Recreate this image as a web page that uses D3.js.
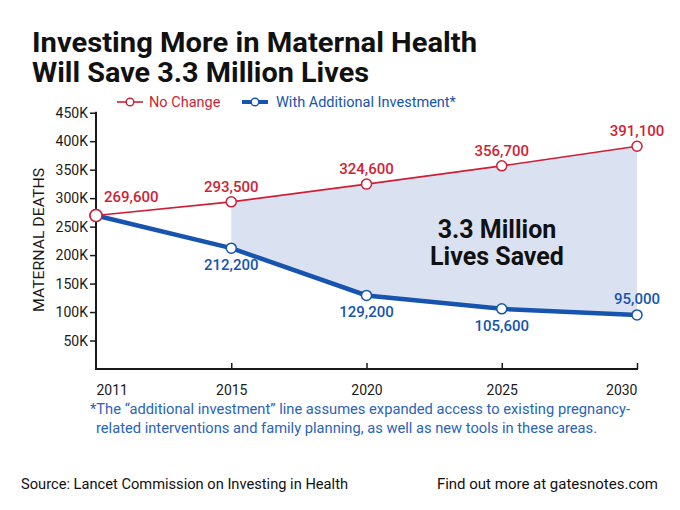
<!DOCTYPE html>
<html>
<head>
<meta charset="utf-8">
<script src="https://cdn.jsdelivr.net/npm/d3@7"></script>
<style>
  body { margin: 0; background: #fff; }
  text { font-family: Roboto, "Noto Sans", sans-serif; }
</style>
</head>
<body>
<svg id="chart" width="680" height="510"></svg>
<script>
// data
const years = ["2011", "2015", "2020", "2025", "2030"];
const noChange = [269600, 293500, 324600, 356700, 391100];
const withInvestment = [269600, 212200, 129200, 105600, 95000];
const yTicks = [50000, 100000, 150000, 200000, 250000, 300000, 350000, 400000, 450000];

const red = "#cf1f36";
const blue = "#1654b0";
const ink = "#1a1a1a";

const svg = d3.select("#chart");

// scales
const x = d3.scalePoint().domain(years).range([96, 637]);
const y = d3.scaleLinear().domain([0, 450000]).range([369, 112.7]);

// title
svg.append("text")
  .attr("x", 32).attr("y", 52)
  .attr("font-size", 27).attr("font-weight", 700).attr("fill", "#111")
  .attr("textLength", 445).attr("lengthAdjust", "spacingAndGlyphs")
  .text("Investing More in Maternal Health");
svg.append("text")
  .attr("x", 32).attr("y", 82)
  .attr("font-size", 27).attr("font-weight", 700).attr("fill", "#111")
  .attr("textLength", 337).attr("lengthAdjust", "spacingAndGlyphs")
  .text("Will Save 3.3 Million Lives");

// legend
const legend = svg.append("g").attr("transform", "translate(0,102)");
legend.append("line").attr("x1", 117).attr("x2", 143).attr("stroke", red).attr("stroke-width", 1.6);
legend.append("circle").attr("cx", 130).attr("r", 3.8).attr("fill", "#fff").attr("stroke", red).attr("stroke-width", 1.4);
legend.append("text").attr("x", 149).attr("y", 5).attr("font-size", 14.5).attr("fill", red).text("No Change");
legend.append("line").attr("x1", 242).attr("x2", 268).attr("stroke", blue).attr("stroke-width", 4);
legend.append("circle").attr("cx", 255).attr("r", 3.8).attr("fill", "#fff").attr("stroke", blue).attr("stroke-width", 1.4);
legend.append("text").attr("x", 276).attr("y", 5).attr("font-size", 14.5).attr("fill", blue).text("With Additional Investment*");

// shaded gap between the two projections, from 2015 on
const gap = years.map((yr, i) => ({ yr, hi: noChange[i], lo: withInvestment[i] })).slice(1);
svg.append("path")
  .datum(gap)
  .attr("fill", "#dae2f1")
  .attr("d", d3.area()
    .x(d => x(d.yr))
    .y0(d => y(d.lo))
    .y1(d => y(d.hi)));

// y axis
const yAxis = svg.append("g")
  .attr("transform", "translate(96,0)")
  .call(d3.axisLeft(y).tickValues(yTicks).tickSize(6).tickPadding(2)
    .tickFormat(d => (d / 1000) + "K"));
yAxis.select(".domain").attr("d", `M0,${y(450000) - 1}V${y(0)}`).attr("stroke", ink).attr("stroke-width", 2);
yAxis.selectAll(".tick line").attr("stroke", ink).attr("stroke-width", 1.5);
yAxis.selectAll(".tick text").attr("font-size", 14).attr("fill", ink).attr("font-family", "Roboto");

// x axis
const xAxis = svg.append("g")
  .attr("transform", `translate(0,${y(0)})`)
  .call(d3.axisBottom(x).tickSize(-6).tickPadding(13));
xAxis.select(".domain").attr("d", `M95,0H638`).attr("stroke", ink).attr("stroke-width", 2);
xAxis.selectAll(".tick line").attr("stroke", ink).attr("stroke-width", 1.5)
  .attr("display", d => d === "2011" ? "none" : null);
xAxis.selectAll(".tick text")
  .attr("font-size", 14).attr("fill", ink).attr("font-family", "Roboto").attr("dy", "0.9em")
  .attr("text-anchor", d => d === "2011" ? "start" : d === "2030" ? "end" : "middle");

// y axis title
svg.append("text")
  .attr("transform", "translate(44,240) rotate(-90)")
  .attr("text-anchor", "middle")
  .attr("font-size", 15.5).attr("fill", ink)
  .attr("textLength", 144).attr("lengthAdjust", "spacingAndGlyphs")
  .text("MATERNAL DEATHS");

// lines
const line = d3.line().x((d, i) => x(years[i])).y(d => y(d));
svg.append("path").datum(withInvestment)
  .attr("fill", "none").attr("stroke", blue).attr("stroke-width", 4.5).attr("d", line);
svg.append("path").datum(noChange)
  .attr("fill", "none").attr("stroke", red).attr("stroke-width", 1.6).attr("d", line);

// point markers
function markers(vals, color) {
  svg.append("g").selectAll("circle")
    .data(vals)
    .join("circle")
    .attr("cx", (d, i) => x(years[i]))
    .attr("cy", d => y(d))
    .attr("r", (d, i) => i === 0 ? 6 : 5)
    .attr("fill", "#fff")
    .attr("stroke", color)
    .attr("stroke-width", 1.5);
}
markers(withInvestment, blue);
markers(noChange, red);

// value labels
const fmt = d3.format(",");
svg.append("g").selectAll("text")
  .data(noChange)
  .join("text")
  .attr("x", (d, i) => i === 0 ? x(years[i]) + 8 : x(years[i]))
  .attr("y", (d, i) => y(d) - (i === 0 ? 13 : 10))
  .attr("text-anchor", (d, i) => i === 0 ? "start" : "middle")
  .attr("font-size", 15).attr("font-weight", 500).attr("fill", red)
  .text(d => fmt(d));

svg.append("g").selectAll("text")
  .data(withInvestment.slice(1))
  .join("text")
  .attr("x", (d, i) => x(years[i + 1]))
  .attr("y", (d, i) => i === 3 ? y(d) - 11 : y(d) + 22)
  .attr("text-anchor", "middle")
  .attr("font-size", 15).attr("font-weight", 500).attr("fill", blue)
  .text(d => fmt(d));

// annotation inside the gap
svg.append("text")
  .attr("x", 497).attr("y", 238)
  .attr("text-anchor", "middle")
  .attr("font-size", 25).attr("font-weight", 700).attr("fill", "#111")
  .text("3.3 Million");
svg.append("text")
  .attr("x", 497).attr("y", 265)
  .attr("text-anchor", "middle")
  .attr("font-size", 25).attr("font-weight", 700).attr("fill", "#111")
  .text("Lives Saved");

// footnote
const foot = svg.append("text").attr("font-size", 14.5).attr("fill", "#2a63b8");
foot.append("tspan").attr("x", 90).attr("y", 414)
  .attr("textLength", 540).attr("lengthAdjust", "spacingAndGlyphs")
  .text("*The \u201cadditional investment\u201d line assumes expanded access to existing pregnancy-");
foot.append("tspan").attr("x", 96).attr("y", 433)
  .attr("textLength", 501).attr("lengthAdjust", "spacingAndGlyphs")
  .text("related interventions and family planning, as well as new tools in these areas.");

// source line
svg.append("text").attr("x", 21).attr("y", 489)
  .attr("font-size", 15).attr("fill", "#111")
  .attr("textLength", 327).attr("lengthAdjust", "spacingAndGlyphs")
  .text("Source: Lancet Commission on Investing in Health");
svg.append("text").attr("x", 658).attr("y", 489)
  .attr("text-anchor", "end")
  .attr("font-size", 15).attr("fill", "#111")
  .text("Find out more at gatesnotes.com");
</script>
</body>
</html>
